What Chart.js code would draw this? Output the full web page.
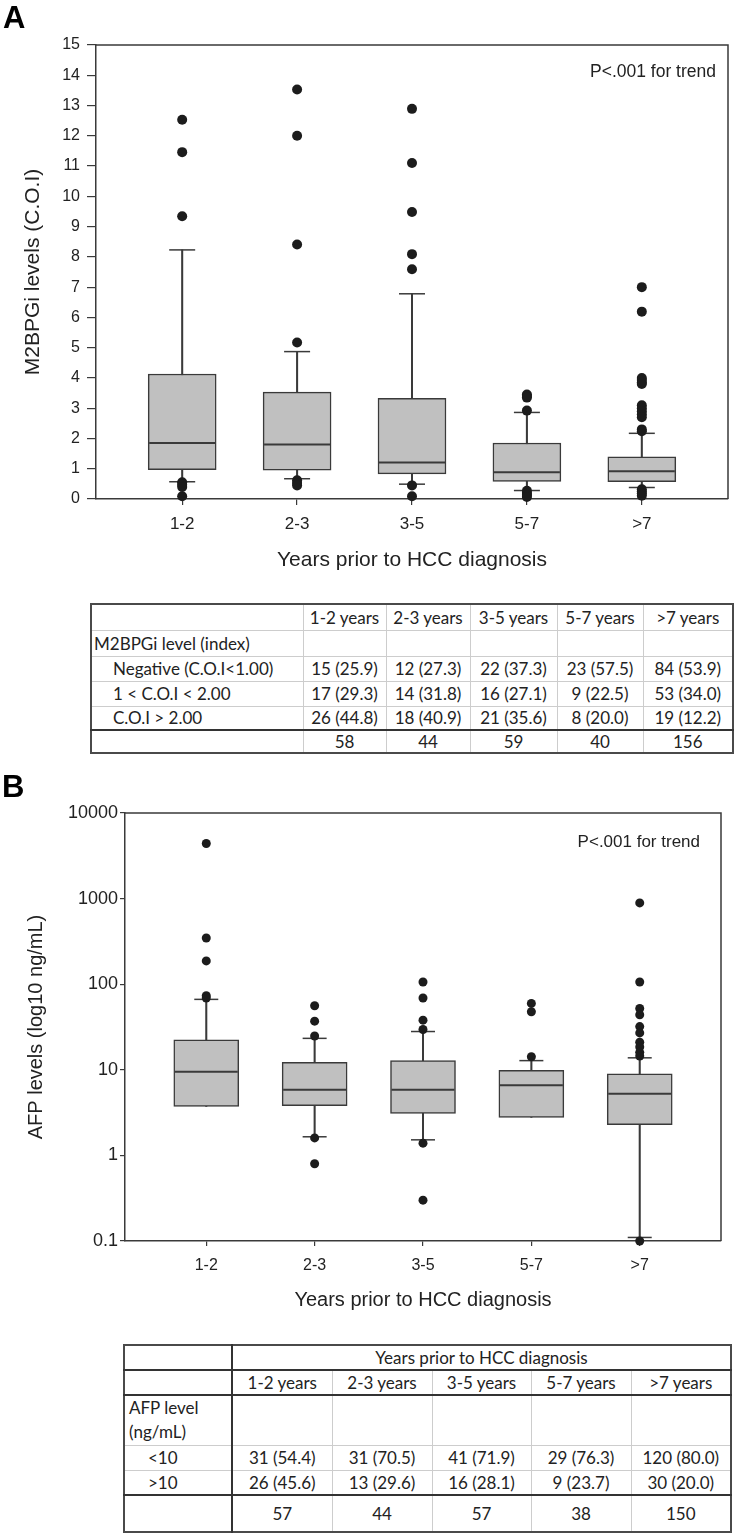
<!DOCTYPE html>
<html>
<head>
<meta charset="utf-8">
<script src="https://cdn.jsdelivr.net/npm/chart.js@4.4.0/dist/chart.umd.min.js"></script>
<style>
  body { margin: 0; width: 735px; height: 1533px; position: relative; background: #fff; overflow: hidden; }
  canvas { position: absolute; left: 0; }
  .panel { position: absolute; font: bold 31px "Liberation Sans", Arial, sans-serif; color: #000; }
  table { position: absolute; border-collapse: collapse; table-layout: fixed; font-family: Lato, "Open Sans", sans-serif; font-size: 17px; color: #222; border: 2px solid #4a4a4a; }
  td { padding: 0; border: 1px solid #cdcdcd; text-align: center; white-space: nowrap; overflow: hidden; }
  td.lab { text-align: left; padding-left: 2px; }
  td.ind { padding-left: 21px; }
  tr.tot td { border-top: 2px solid #333; }
</style>
</head>
<body>
<canvas id="chartA" width="735" height="590" style="top:0"></canvas>
<div class="panel" style="left:3px;top:0px">A</div>
<table id="tableA" style="left:90px;top:603px;width:642px"></table>
<canvas id="chartB" width="735" height="565" style="top:760px"></canvas>
<div class="panel" style="left:2px;top:769px">B</div>
<table id="tableB" style="left:123px;top:1344px;width:607px"></table>
<script>
const groups = ["1-2", "2-3", "3-5", "5-7", ">7"];
const yearHeaders = ["1-2 years", "2-3 years", "3-5 years", "5-7 years", ">7 years"];

// panel A: M2BPGi levels (C.O.I)
const m2Low = [0.57, 0.67, 0.49, 0.28, 0.38];
const m2Q1 = [0.97, 0.95, 0.83, 0.58, 0.57];
const m2Median = [1.85, 1.80, 1.21, 0.88, 0.92];
const m2Q3 = [4.13, 3.53, 3.33, 1.85, 1.39];
const m2High = [8.23, 4.87, 6.78, 2.86, 2.17];
const m2Outliers = [
  [12.53, 11.46, 9.34, 0.55, 0.47, 0.40, 0.09],
  [13.53, 12.0, 8.41, 5.17, 0.62, 0.53, 0.45],
  [12.89, 11.10, 9.48, 8.09, 7.59, 0.45, 0.09],
  [3.45, 3.40, 3.35, 2.92, 0.27, 0.20, 0.13, 0.07],
  [7.0, 6.19, 4.0, 3.93, 3.85, 3.8, 3.1, 3.0, 2.9, 2.8, 2.7, 2.3, 2.24, 0.32, 0.25, 0.18, 0.11]
];
const m2Ticks = [0, 1, 2, 3, 4, 5, 6, 7, 8, 9, 10, 11, 12, 13, 14, 15];

// panel B: AFP levels (ng/mL), no lower whisker = null
const afpLow = [null, 1.65, 1.52, null, 0.11];
const afpQ1 = [3.73, 3.8, 3.09, 2.78, 2.28];
const afpMedian = [9.5, 5.85, 5.85, 6.6, 5.25];
const afpQ3 = [22.4, 12.2, 12.8, 9.83, 8.98];
const afpHigh = [66.5, 23.3, 28, 12.8, 13.8];
const afpOutliers = [
  [4400, 347, 187, 73.5, 69],
  [56, 37, 24.8, 1.6, 0.8],
  [106, 69, 38, 29.6, 1.39, 0.30],
  [59.7, 47.6, 14.2],
  [890, 106, 52, 44, 32, 27, 21, 18.5, 16, 14.5, 0.1]
];
const afpTicks = [0.1, 1, 10, 100, 1000, 10000];

// tables
const m2Negative = ["15 (25.9)", "12 (27.3)", "22 (37.3)", "23 (57.5)", "84 (53.9)"];
const m2Middle = ["17 (29.3)", "14 (31.8)", "16 (27.1)", "9 (22.5)", "53 (34.0)"];
const m2Positive = ["26 (44.8)", "18 (40.9)", "21 (35.6)", "8 (20.0)", "19 (12.2)"];
const m2Totals = [58, 44, 59, 40, 156];
const afpUnder10 = ["31 (54.4)", "31 (70.5)", "41 (71.9)", "29 (76.3)", "120 (80.0)"];
const afpOver10 = ["26 (45.6)", "13 (29.6)", "16 (28.1)", "9 (23.7)", "30 (20.0)"];
const afpTotals = [57, 44, 57, 38, 150];

const ink = "#3a3a3a";
const family = '"Liberation Sans", Arial, sans-serif';
Chart.defaults.font.family = family;
Chart.defaults.color = "#222";

function boxDatasets(lo, q1, med, q3, hi, out, boxW, capR, dotR) {
  const idx = groups.map((g, i) => i);
  const caps = [];
  idx.forEach(i => {
    caps.push({ x: i, y: hi[i] });
    if (lo[i] != null) caps.push({ x: i, y: lo[i] });
  });
  return [
    { type: "bar", data: idx.map(i => ({ x: i, y: [lo[i] ?? q1[i], hi[i]] })),
      backgroundColor: ink, barThickness: 1.4, grouped: false, order: 4 },
    { type: "bar", data: idx.map(i => ({ x: i, y: [q1[i], q3[i]] })),
      backgroundColor: "#c0c0c0", borderColor: ink, borderWidth: 1.5, borderSkipped: false,
      barThickness: boxW, grouped: false, order: 3 },
    { type: "scatter", data: idx.map(i => ({ x: i, y: med[i] })),
      pointStyle: "line", pointRadius: boxW / 2 - 1, borderColor: ink, borderWidth: 2, order: 2 },
    { type: "scatter", data: caps,
      pointStyle: "line", pointRadius: capR, borderColor: ink, borderWidth: 1.5, order: 1 },
    { type: "scatter", data: out.flatMap((arr, i) => arr.map(v => ({ x: i, y: v }))),
      pointRadius: dotR, backgroundColor: "#1c1c1c", borderWidth: 0, order: 0, clip: false }
  ];
}

const frame = {
  id: "frame",
  afterDraw(chart, args, opts) {
    const { ctx, chartArea: a } = chart;
    ctx.save();
    ctx.strokeStyle = ink;
    ctx.lineWidth = 1.5;
    ctx.beginPath();
    ctx.moveTo(a.left, a.top);
    ctx.lineTo(a.right, a.top);
    ctx.lineTo(a.right, a.bottom);
    ctx.stroke();
    ctx.font = opts.font;
    ctx.fillStyle = "#222";
    ctx.textAlign = "right";
    ctx.textBaseline = "middle";
    ctx.fillText(opts.text, a.right - opts.dx, a.top + opts.dy);
    ctx.restore();
  }
};

function makeOptions(cfg) {
  return {
    responsive: false,
    animation: false,
    events: [],
    devicePixelRatio: 1,
    layout: { autoPadding: false, padding: { top: cfg.padTop, right: cfg.padRight, left: 0, bottom: 0 } },
    plugins: {
      legend: { display: false },
      tooltip: { enabled: false },
      frame: { text: "P<.001 for trend", font: cfg.noteFont, dx: cfg.noteDx, dy: cfg.noteDy }
    },
    scales: {
      x: {
        type: "linear", min: -0.75, max: 4.75, offset: false,
        afterBuildTicks: s => { s.ticks = groups.map((g, i) => ({ value: i })); },
        ticks: { callback: v => groups[v], font: { size: cfg.xTickSize }, padding: cfg.xTickPad, autoSkip: false, maxRotation: 0 },
        grid: { offset: false, drawOnChartArea: false, drawTicks: true, tickLength: cfg.xTickLen, color: ink, lineWidth: 1.2 },
        border: { display: true, color: ink, width: 1.5 },
        title: { display: true, text: "Years prior to HCC diagnosis", font: { size: cfg.xTitleSize }, padding: { top: 0, bottom: cfg.xTitlePad } },
        afterFit: s => { s.height = cfg.xHeight; }
      },
      y: Object.assign({
        ticks: { font: { size: cfg.yTickSize }, padding: cfg.yTickPad, autoSkip: false, callback: v => String(v) },
        afterBuildTicks: s => { s.ticks = cfg.yTicks.map(v => ({ value: v })); },
        grid: { drawOnChartArea: false, drawTicks: true, tickLength: cfg.yTickLen, color: ink, lineWidth: 1.2 },
        border: { display: true, color: ink, width: 1.5 },
        title: { display: true, text: cfg.yTitle, font: { size: cfg.yTitleSize }, padding: { top: cfg.yTitlePad, bottom: 0 } },
        afterFit: s => { s.width = cfg.yWidth; }
      }, cfg.yScale)
    }
  };
}

new Chart(document.getElementById("chartA"), {
  type: "bar",
  data: { datasets: boxDatasets(m2Low, m2Q1, m2Median, m2Q3, m2High, m2Outliers, 68, 13, 5) },
  options: makeOptions({
    padTop: 45, padRight: 7, xHeight: 91, yWidth: 96,
    xTickSize: 17, xTickPad: 9, xTickLen: 6, xTitleSize: 21, xTitlePad: 17,
    yTickSize: 16, yTickPad: 7, yTickLen: 9, yTitleSize: 21, yTitlePad: 21,
    yTitle: "M2BPGi levels (C.O.I)", yTicks: m2Ticks,
    yScale: { type: "linear", min: 0, max: 15 },
    noteFont: "17.5px " + family, noteDx: 12, noteDy: 27
  }),
  plugins: [frame]
});

new Chart(document.getElementById("chartB"), {
  type: "bar",
  data: { datasets: boxDatasets(afpLow, afpQ1, afpMedian, afpQ3, afpHigh, afpOutliers, 65, 12, 4.5) },
  options: makeOptions({
    padTop: 53, padRight: 14, xHeight: 84, yWidth: 125,
    xTickSize: 16, xTickPad: 10, xTickLen: 5, xTitleSize: 20, xTitlePad: 13,
    yTickSize: 18, yTickPad: 2, yTickLen: 5, yTitleSize: 20, yTitlePad: 24,
    yTitle: "AFP levels (log10 ng/mL)", yTicks: afpTicks,
    yScale: { type: "logarithmic", min: 0.1, max: 10000 },
    noteFont: "17px " + family, noteDx: 21, noteDy: 29
  }),
  plugins: [frame]
});

// tables
function addRow(table, height, cells, cls) {
  const tr = document.createElement("tr");
  tr.style.height = height + "px";
  if (cls) tr.className = cls;
  cells.forEach(c => {
    const td = document.createElement("td");
    if (typeof c === "object" && c !== null) {
      if (c.cls) td.className = c.cls;
      if (c.span) td.colSpan = c.span;
      if (c.style) td.setAttribute("style", c.style);
      if (c.lines) td.innerHTML = c.lines.map(l => l.replace(/</g, "&lt;")).join("<br>");
      else td.textContent = c.text;
    } else {
      td.textContent = c;
    }
    tr.appendChild(td);
  });
  table.appendChild(tr);
}

function colgroup(table, widths) {
  const cg = document.createElement("colgroup");
  widths.forEach(w => {
    const col = document.createElement("col");
    col.style.width = w + "px";
    cg.appendChild(col);
  });
  table.appendChild(cg);
}

const tA = document.getElementById("tableA");
colgroup(tA, [212, 83, 84, 87, 86, 90]);
addRow(tA, 26, ["", ...yearHeaders]);
addRow(tA, 26, [{ text: "M2BPGi level (index)", cls: "lab" }, "", "", "", "", ""]);
addRow(tA, 25, [{ text: "Negative (C.O.I<1.00)", cls: "lab ind" }, ...m2Negative]);
addRow(tA, 25, [{ text: "1 < C.O.I < 2.00", cls: "lab ind" }, ...m2Middle]);
addRow(tA, 24, [{ text: "C.O.I > 2.00", cls: "lab ind" }, ...m2Positive]);
addRow(tA, 23, ["", ...m2Totals.map(String)], "tot");

const tB = document.getElementById("tableB");
const darkR = "border-right:2px solid #333;";
const darkB = "border-bottom:2px solid #333;";
colgroup(tB, [108, 100, 100, 99, 100, 100]);
addRow(tB, 25, [{ text: "", style: darkR + darkB }, { text: "Years prior to HCC diagnosis", span: 5, style: darkB }]);
addRow(tB, 25, [{ text: "", style: darkR + darkB }, ...yearHeaders.map(h => ({ text: h, style: darkB }))]);
addRow(tB, 50, [{ lines: ["AFP level", "(ng/mL)"], cls: "lab", style: darkR + "line-height:24px;padding-left:4px;" }, "", "", "", "", ""]);
addRow(tB, 25, [{ text: "<10", cls: "lab", style: darkR + "padding-left:23px;" }, ...afpUnder10]);
addRow(tB, 25, [{ text: ">10", cls: "lab", style: darkR + "padding-left:23px;" }, ...afpOver10]);
addRow(tB, 37, [{ text: "", style: darkR }, ...afpTotals.map(String)], "tot");
</script>
</body>
</html>
